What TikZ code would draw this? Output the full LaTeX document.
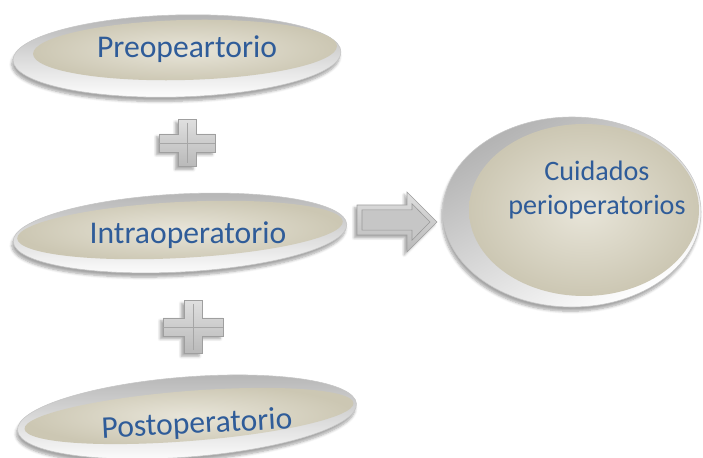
\documentclass[tikz,border=0pt]{standalone}
\usepackage{fontspec}
\setmainfont{Carlito}
\usepackage{tikz}
\usepackage{xcolor}
\usetikzlibrary{shapes.geometric,shadows.blur}

\definecolor{phaseblue}{HTML}{2F5C99}
\definecolor{beigelight}{HTML}{E8E5D9}
\definecolor{beigedark}{HTML}{CCC7B3}

\begin{document}
\begin{tikzpicture}[
    rim/.style={ellipse, inner sep=0pt, draw=gray!45, top color=gray!60, bottom color=white,
        blur shadow={shadow xshift=-1pt, shadow yshift=-3pt, shadow opacity=35, shadow blur steps=6}},
    lens/.style={ellipse, inner sep=0pt, draw=none, inner color=beigelight, outer color=beigedark},
    lbl/.style={text=phaseblue, font=\fontsize{22.5}{27}\selectfont},
    plusbox/.style={draw=gray!75, top color=gray!25, bottom color=gray!55, line join=miter,
        blur shadow={shadow xshift=-2pt, shadow yshift=-2pt, shadow opacity=35, shadow blur steps=5}}
]
    \useasboundingbox (0,0) rectangle (17.575,11.425);
    % the three phases
    \node[rim, minimum width=8.2cm, minimum height=2.05cm, rotate=1.5] (preRim) at (4.425,10.025) {};
    \node[lens, minimum width=7.6cm, minimum height=1.5cm, rotate=1.5] (preLens) at (4.625,10.175) {};
    \node[lbl] (pre) at (4.675,10.2) {Preopeartorio};

    \node[rim, minimum width=8.35cm, minimum height=1.95cm, rotate=3] (intraRim) at (4.5,5.6) {};
    \node[lens, minimum width=8.15cm, minimum height=1.4cm, rotate=3] (intraLens) at (4.5,5.675) {};
    \node[lbl] (intra) at (4.7,5.55) {Intraoperatorio};

    \node[rim, minimum width=8.5cm, minimum height=2.0cm, rotate=4.5] (postRim) at (4.675,1.0) {};
    \node[lens, minimum width=8.25cm, minimum height=1.25cm, rotate=4.5] (postLens) at (4.725,1.025) {};
    \node[lbl, rotate=3] (post) at (4.925,0.8) {Postoperatorio};

    % plus signs
    \draw[plusbox] (4.675,7.85) ++(-0.225,0.59) -- ++(0.45,0) -- ++(0,-0.365) -- ++(0.475,0)
        -- ++(0,-0.45) -- ++(-0.475,0) -- ++(0,-0.365) -- ++(-0.45,0) -- ++(0,0.365)
        -- ++(-0.475,0) -- ++(0,0.45) -- ++(0.475,0) -- cycle;
    \draw[gray!70] (4.675,8.36) -- (4.675,7.34) (3.98,7.85) -- (5.37,7.85);
    \draw[plusbox] (4.825,3.25) ++(-0.225,0.66) -- ++(0.45,0) -- ++(0,-0.435) -- ++(0.525,0)
        -- ++(0,-0.45) -- ++(-0.525,0) -- ++(0,-0.435) -- ++(-0.45,0) -- ++(0,0.435)
        -- ++(-0.525,0) -- ++(0,0.45) -- ++(0.525,0) -- cycle;
    \draw[gray!70] (4.825,3.83) -- (4.825,2.67) (4.08,3.25) -- (5.57,3.25);

    % block arrow
    \draw[plusbox] (8.925,6.3) -- (10.175,6.3) -- (10.175,6.625) -- (10.925,5.875)
        -- (10.175,5.125) -- (10.175,5.55) -- (8.925,5.55) -- cycle;
    \draw[gray!80, fill=gray!45] (9.05,6.18) -- (10.3,6.18) -- (10.3,6.33) -- (10.75,5.875)
        -- (10.3,5.42) -- (10.3,5.67) -- (9.05,5.67) -- cycle;

    % result
    \node[rim, minimum width=6.45cm, minimum height=4.75cm, shading angle=30] (cuiRim) at (14.3,6.125) {};
    \node[lens, minimum width=5.75cm, minimum height=4.3cm] (cuiLens) at (14.6,6.175) {};
    \node[lbl, align=center, font=\fontsize{20}{24}\selectfont] (cui) at (14.925,6.675) {Cuidados\\perioperatorios};
\end{tikzpicture}
\end{document}
